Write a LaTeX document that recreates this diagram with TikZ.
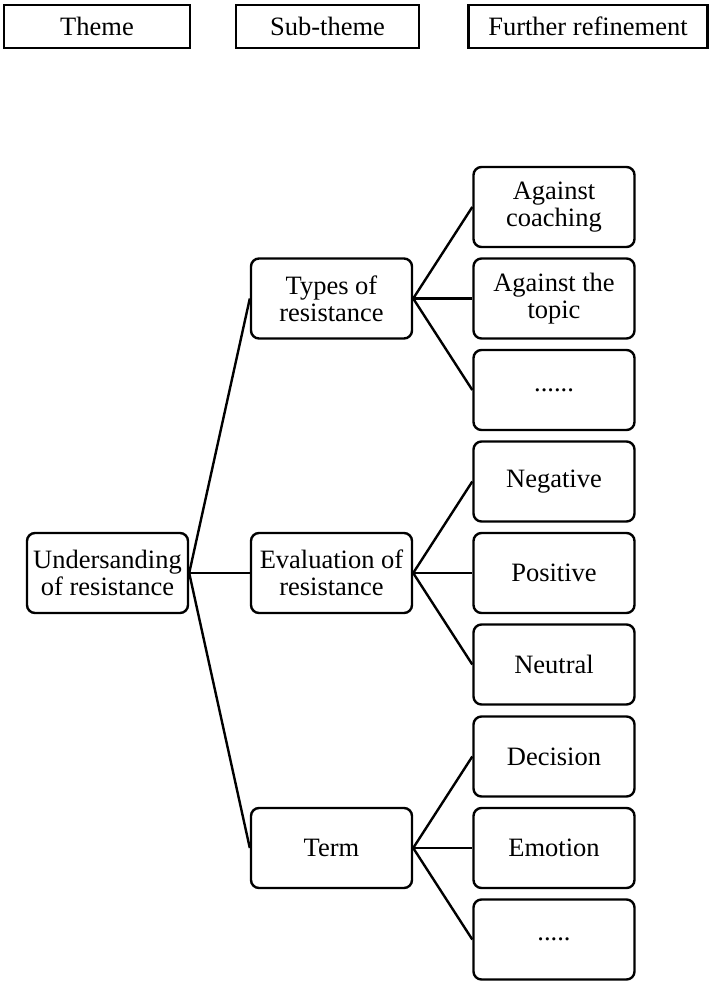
\documentclass[tikz,border=0pt]{standalone}
\usepackage{fontspec}
\setmainfont{Liberation Serif}
\begin{document}
\begin{tikzpicture}[x=1pt,y=-1pt,
  every node/.style={font=\fontsize{26.5}{27}\selectfont},
  head/.style={draw,line width=2.6pt,minimum height=43pt,inner sep=0pt},
  box/.style={draw,line width=2.4pt,rounded corners=8pt,minimum width=161pt,minimum height=80pt,inner sep=0pt,align=center},
  link/.style={line width=2.4pt}]
\useasboundingbox (0,0) rectangle (711,983);
\node[head,minimum width=186pt] (h1) at (97,26.5) {Theme};
\node[head,minimum width=183pt] (h2) at (327.5,26.5) {Sub-theme};
\node[head,minimum width=239pt] (h3) at (588,26.5) {Further refinement};
\node[box] (root) at (107.5,573) {Undersanding\\of resistance};
\node[box] (s1) at (331.5,298.5) {Types of\\resistance};
\node[box] (s2) at (331.5,573) {Evaluation of\\resistance};
\node[box] (s3) at (331.5,848) {Term};
\node[box] (l1) at (554,207) {Against\\coaching};
\node[box] (l2) at (554,298.5) {Against the\\topic};
\node[box] (l3) at (554,390) {......};
\node[box] (l4) at (554,481.5) {Negative};
\node[box] (l5) at (554,573) {Positive};
\node[box] (l6) at (554,664.5) {Neutral};
\node[box] (l7) at (554,756.5) {Decision};
\node[box] (l8) at (554,848) {Emotion};
\node[box] (l9) at (554,939.5) {.....};
\foreach \s in {s1,s2,s3} \draw[link] (root.east) -- (\s.west);
\foreach \l in {l1,l2,l3} \draw[link] (s1.east) -- (\l.west);
\foreach \l in {l4,l5,l6} \draw[link] (s2.east) -- (\l.west);
\foreach \l in {l7,l8,l9} \draw[link] (s3.east) -- (\l.west);
\end{tikzpicture}
\end{document}
